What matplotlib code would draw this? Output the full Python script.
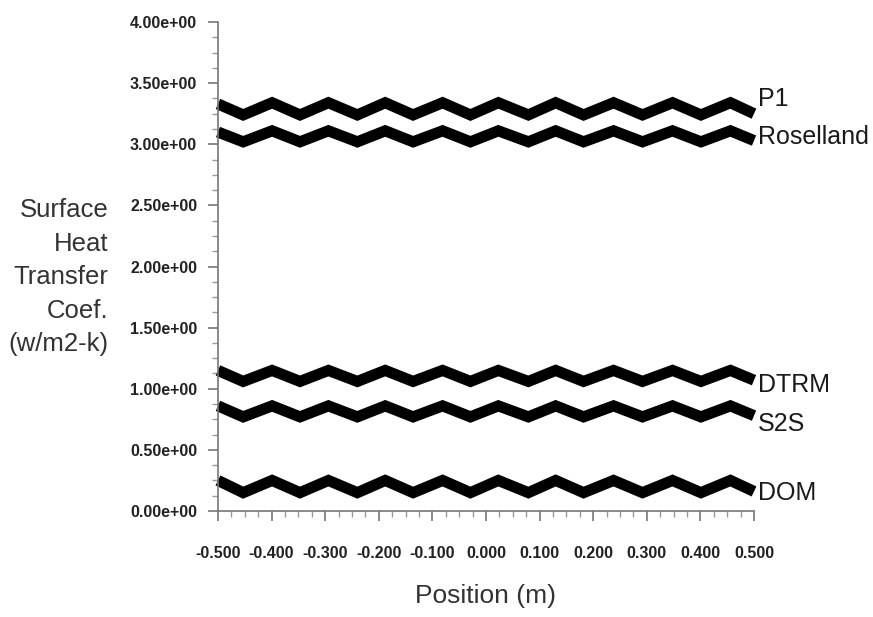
import matplotlib
matplotlib.use("Agg")
import matplotlib.pyplot as plt
from matplotlib.ticker import MultipleLocator, FormatStrFormatter, FuncFormatter

# ===== DATA =====
# vertex positions of the zigzag lines (m)
x_pos = [-0.500, -0.453, -0.399, -0.347, -0.294, -0.240, -0.188, -0.136,
         -0.081, -0.029, 0.023, 0.079, 0.130, 0.182, 0.238, 0.292, 0.348,
         0.401, 0.456, 0.500]

p1 = [3.33, 3.24, 3.34, 3.24, 3.34, 3.24, 3.34, 3.24, 3.34, 3.24, 3.34,
      3.24, 3.34, 3.24, 3.34, 3.24, 3.34, 3.24, 3.34, 3.25]
rosseland = [3.10, 3.02, 3.11, 3.02, 3.11, 3.02, 3.11, 3.02, 3.11, 3.02,
             3.11, 3.02, 3.11, 3.02, 3.11, 3.02, 3.11, 3.02, 3.11, 3.03]
dtrm = [1.15, 1.06, 1.15, 1.06, 1.15, 1.06, 1.15, 1.06, 1.15, 1.06, 1.15,
        1.06, 1.15, 1.06, 1.15, 1.06, 1.15, 1.06, 1.15, 1.07]
s2s = [0.86, 0.77, 0.86, 0.77, 0.86, 0.77, 0.86, 0.77, 0.86, 0.77, 0.86,
       0.77, 0.86, 0.77, 0.86, 0.77, 0.86, 0.77, 0.86, 0.78]
dom = [0.25, 0.15, 0.25, 0.15, 0.25, 0.15, 0.25, 0.15, 0.25, 0.15, 0.25,
       0.15, 0.25, 0.15, 0.25, 0.15, 0.25, 0.15, 0.25, 0.16]

series = [p1, rosseland, dtrm, s2s, dom]
names = ["P1", "Roselland", "DTRM", "S2S", "DOM"]
label_y = [3.37, 3.06, 1.03, 0.71, 0.15]

x_ticks = [-0.5, -0.4, -0.3, -0.2, -0.1, 0.0, 0.1, 0.2, 0.3, 0.4, 0.5]
y_ticks = [0.0, 0.5, 1.0, 1.5, 2.0, 2.5, 3.0, 3.5, 4.0]

fam = ["Liberation Sans", "DejaVu Sans"]

# ===== FIGURE =====
fig = plt.figure(figsize=(8.73, 6.17), dpi=100)
ax = fig.add_axes([0.2497, 0.1718, 0.6140, 0.7925])

for vals in series:
    ax.plot(x_pos, vals, color="black", linewidth=8,
            solid_joinstyle="miter", solid_capstyle="butt", clip_on=False)

for name, yy in zip(names, label_y):
    ax.text(0.507, yy, name, fontsize=18, family=fam, color="#1a1a1a",
            ha="left", va="center")

ax.set_xlim(-0.5, 0.5)
ax.set_ylim(0.0, 4.0)

ax.set_xticks(x_ticks)
ax.set_yticks(y_ticks)
ax.xaxis.set_minor_locator(MultipleLocator(0.025))
ax.yaxis.set_minor_locator(MultipleLocator(0.125))
ax.xaxis.set_major_formatter(FormatStrFormatter("%.3f"))
ax.yaxis.set_major_formatter(FuncFormatter(lambda v, p: f"{v:.2f}e+00"))

for sp in ["top", "right"]:
    ax.spines[sp].set_visible(False)
for sp in ["left", "bottom"]:
    ax.spines[sp].set_color("#777777")
    ax.spines[sp].set_linewidth(1.2)

ax.tick_params(which="major", direction="out", length=7, width=1.2,
               color="#777777")
ax.tick_params(which="minor", direction="out", length=4, width=1.0,
               color="#999999")
ax.tick_params(axis="y", pad=8)
ax.tick_params(axis="x", pad=18)

for lab in ax.get_yticklabels():
    lab.set_family(fam)
    lab.set_fontsize(11.5)
    lab.set_fontweight("bold")
    lab.set_color("#222222")
for lab in ax.get_xticklabels():
    lab.set_family(fam)
    lab.set_fontsize(11.5)
    lab.set_fontweight("bold")
    lab.set_color("#222222")

fig.text(0.124, 0.551, "Surface\nHeat\nTransfer\nCoef.\n(w/m2-k)",
         fontsize=18.5, family=fam, ha="right", va="center",
         linespacing=1.5, color="#333333")
fig.text(0.556, 1 - 596 / 617, "Position (m)", fontsize=19, family=fam,
         color="#333333", ha="center", va="center")

fig.savefig("out.png", dpi=100)
